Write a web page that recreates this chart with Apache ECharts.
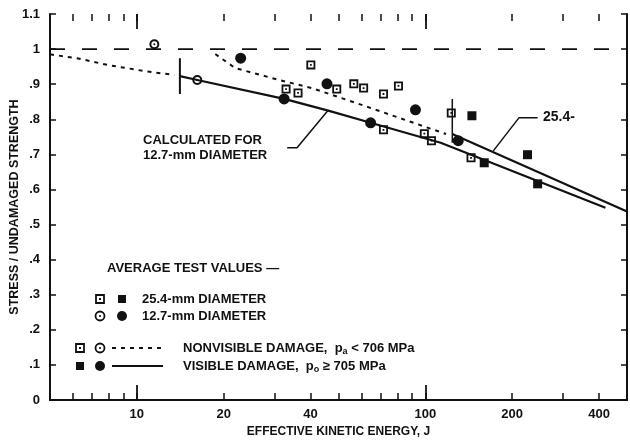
<!DOCTYPE html>
<html>
<head>
<meta charset="utf-8">
<script src="https://cdn.jsdelivr.net/npm/echarts@6/dist/echarts.min.js"></script>
<style>
  html, body { margin: 0; padding: 0; background: #fff; }
  #chart { width: 630px; height: 441px; }
</style>
</head>
<body>
<div id="chart"></div>
<script>
// axis ticks / labels (log x axis, J)
const xTicks = [6, 7, 8, 9, 10, 20, 30, 40, 50, 60, 70, 80, 90, 100, 200, 300, 400]
const xLongTicks = [10, 100]
const xLabels = [10, 20, 40, 100, 200, 400]

// average test values [energy J, stress / undamaged strength]
const sq254Open = [[32.9, 0.886], [36.2, 0.875], [40.1, 0.955], [49.3, 0.886], [56.5, 0.901], [61.1, 0.889],
  [71.6, 0.872], [80.7, 0.895], [71.6, 0.770], [99.2, 0.759], [105, 0.739], [123, 0.818], [144, 0.690]]
const sq254Filled = [[145, 0.810], [160, 0.676], [226, 0.699], [245, 0.616]]
const ci127Open = [[11.5, 1.014], [16.2, 0.912]]
const ci127Filled = [[22.9, 0.974], [32.4, 0.858], [45.6, 0.901], [64.6, 0.790], [92.4, 0.827], [130, 0.739]]

// curves
const refLine = [[5, 1], [500, 1]]
const dotted127 = [[5, 0.985], [6.2, 0.974], [7.9, 0.955], [10.5, 0.938], [13.5, 0.926]]
const bar127 = [[14.1, 0.974], [14.1, 0.872]]
const solid127 = [[14.1, 0.923], [16.2, 0.912], [32.4, 0.858], [46.4, 0.824], [64.6, 0.790], [113, 0.733], [421, 0.548]]
const dotted254 = [[18.7, 0.986], [21.9, 0.946], [31.1, 0.912], [40.4, 0.889], [58.7, 0.844], [118, 0.758]]
const bar254 = [[124, 0.858], [124, 0.733]]
const solid254 = [[124, 0.758], [500, 0.537]]
const callout127 = [[33.2, 0.719], [35.9, 0.719], [45.9, 0.824]]
const callout254 = [[172, 0.710], [211, 0.804], [245, 0.804]]

const INK = '#111'
const FONT = '"Liberation Sans", Arial, sans-serif'

const SQ_OPEN = 'path://M0,0L10,0L10,10L0,10Z M2,2L2,8L8,8L8,2Z M4,4L6,4L6,6L4,6Z'
const CI_OPEN = 'path://M5,0A5,5,0,1,1,5,10A5,5,0,1,1,5,0Z M5,2A3,3,0,1,0,5,8A3,3,0,1,0,5,2Z M5,4A1,1,0,1,1,5,6A1,1,0,1,1,5,4Z'

function yFmt(v) {
  if (v === 0) return '0'
  const s = (+v).toFixed(1)
  if (s === '1.0') return '1'
  return s.replace(/^0/, '')
}

function lineSeries(name, data, width, type) {
  return {
    name, type: 'line', data, showSymbol: false, symbol: 'none', silent: true,
    lineStyle: { color: INK, width, type: type || 'solid' },
    z: 2,
  }
}

function scatterSeries(name, data, symbol, size) {
  return {
    name, type: 'scatter', data, symbol, symbolSize: size, silent: true,
    itemStyle: { color: INK, opacity: 1 },
    z: 5,
  }
}

// legend / annotation helpers (pixel layout only)
function openSquare(cx, cy, s) {
  return [
    { type: 'rect', shape: { x: cx - s / 2, y: cy - s / 2, width: s, height: s }, style: { fill: '#fff', stroke: INK, lineWidth: 1.8 } },
    { type: 'rect', shape: { x: cx - 1, y: cy - 1, width: 2, height: 2 }, style: { fill: INK } },
  ]
}
function filledSquare(cx, cy, s) {
  return [{ type: 'rect', shape: { x: cx - s / 2, y: cy - s / 2, width: s, height: s }, style: { fill: INK } }]
}
function openCircle(cx, cy, r) {
  return [
    { type: 'circle', shape: { cx, cy, r }, style: { fill: '#fff', stroke: INK, lineWidth: 1.8 } },
    { type: 'circle', shape: { cx, cy, r: 1.1 }, style: { fill: INK } },
  ]
}
function filledCircle(cx, cy, r) {
  return [{ type: 'circle', shape: { cx, cy, r }, style: { fill: INK } }]
}
function label(x, y, text, size) {
  return {
    type: 'text', x, y,
    style: { text, fill: INK, font: 'bold ' + (size || 13) + 'px ' + FONT, verticalAlign: 'middle', align: 'left' },
  }
}
function richLabel(x, y, before, sub, after) {
  return {
    type: 'text', x, y,
    style: {
      text: '{a|' + before + '}{s|' + sub + '}{a|' + after + '}',
      verticalAlign: 'middle', align: 'left',
      rich: {
        a: { fill: INK, font: 'bold 13px ' + FONT },
        s: { fill: INK, font: 'bold 9px ' + FONT, padding: [7, 0, 0, 0] },
      },
    },
  }
}

const graphics = [].concat(
  label(143, 140, 'CALCULATED FOR'),
  label(143, 155, '12.7-mm DIAMETER'),
  label(543, 117, '25.4-', 14),
  label(107, 268, 'AVERAGE TEST VALUES —'),
  openSquare(100, 299, 8), filledSquare(122, 299, 8), label(142, 299, '25.4-mm DIAMETER'),
  openCircle(100, 316, 4.5), filledCircle(122, 316, 5), label(142, 316, '12.7-mm DIAMETER'),
  openSquare(80, 348, 8), openCircle(100, 348, 4.5),
  { type: 'line', shape: { x1: 112, y1: 348, x2: 163, y2: 348 }, style: { stroke: INK, lineWidth: 2, lineDash: [4, 5] } },
  richLabel(183, 348, 'NONVISIBLE DAMAGE,  p', 'a', ' < 706 MPa'),
  filledSquare(80, 366, 8), filledCircle(100, 366, 5),
  { type: 'line', shape: { x1: 112, y1: 366, x2: 163, y2: 366 }, style: { stroke: INK, lineWidth: 2 } },
  richLabel(183, 366, 'VISIBLE DAMAGE,  p', 'o', ' ≥ 705 MPa'),
)

function gridPos() {
  return { left: 50, right: 3, top: 14, bottom: 41, outerBoundsMode: 'none', containLabel: false }
}
// thin strip above the plot: its bottom edge is the top frame, so outward ticks point down into the plot
function topStrip() {
  return { left: 50, right: 3, top: 0, height: 14, outerBoundsMode: 'none', containLabel: false }
}
function axisLine() {
  return { show: true, lineStyle: { color: INK, width: 2 } }
}
function tick(values, length, width, inside) {
  return { show: true, inside: inside !== false, length, customValues: values.slice(), lineStyle: { color: INK, width } }
}
function labelFont() {
  return { color: INK, fontFamily: FONT, fontWeight: 'bold', fontSize: 13 }
}
// labels kept (so the custom tick values stay in use) but drawn transparent
function ghostLabels(values) {
  return { show: true, customValues: values.slice(), color: 'rgba(0,0,0,0)', fontSize: 13 }
}
function logX(extra) {
  return Object.assign({ type: 'log', logBase: 10, min: 5, max: 500, splitLine: { show: false } }, extra)
}
function bareTop(gridIndex) {
  return logX({ position: 'top', gridIndex, axisLine: { show: false }, axisTick: { show: false }, axisLabel: { show: false } })
}

const chart = echarts.init(document.getElementById('chart'))
chart.setOption({
  animation: false,
  backgroundColor: '#fff',
  grid: [gridPos(), gridPos(), topStrip(), topStrip()],
  xAxis: [
    logX({
      position: 'bottom', gridIndex: 0,
      axisLine: axisLine(),
      axisTick: tick(xTicks, 7, 1.5),
      axisLabel: Object.assign({ customValues: xLabels.slice(), margin: 8 }, labelFont()),
      name: 'EFFECTIVE KINETIC ENERGY, J', nameLocation: 'middle', nameGap: 26, nameMoveOverlap: false,
      nameTextStyle: { color: INK, fontFamily: FONT, fontWeight: 'bold', fontSize: 12 },
    }),
    logX({
      position: 'top', gridIndex: 0,
      axisLine: axisLine(),
      axisTick: { show: false },
      axisLabel: { show: false },
    }),
    logX({
      position: 'bottom', gridIndex: 1,
      axisLine: { show: false },
      axisTick: tick(xLongTicks, 15, 1.8),
      axisLabel: ghostLabels(xLongTicks),
    }),
    bareTop(1),
    logX({
      position: 'bottom', gridIndex: 2,
      axisLine: { show: false },
      axisTick: tick(xTicks, 7, 1.5, false),
      axisLabel: ghostLabels(xTicks),
    }),
    bareTop(2),
    logX({
      position: 'bottom', gridIndex: 3,
      axisLine: { show: false },
      axisTick: tick(xLongTicks, 15, 1.8, false),
      axisLabel: ghostLabels(xLongTicks),
    }),
    bareTop(3),
  ],
  yAxis: [
    {
      type: 'value', min: 0, max: 1.1, interval: 0.1, position: 'left', gridIndex: 0,
      axisLine: axisLine(),
      axisTick: { inside: true, length: 6, lineStyle: { color: INK, width: 1.5 } },
      axisLabel: Object.assign({ formatter: yFmt, margin: 10 }, labelFont()),
      splitLine: { show: false },
      name: 'STRESS / UNDAMAGED STRENGTH', nameLocation: 'middle', nameGap: 29, nameRotate: 90,
      nameMoveOverlap: false,
      nameTextStyle: { color: INK, fontFamily: FONT, fontWeight: 'bold', fontSize: 12.5 },
    },
    {
      type: 'value', min: 0, max: 1.1, interval: 0.1, position: 'right', gridIndex: 0,
      axisLine: axisLine(),
      axisTick: { inside: true, length: 6, lineStyle: { color: INK, width: 1.5 } },
      axisLabel: { show: false },
      splitLine: { show: false },
    },
    { type: 'value', min: 0, max: 1.1, gridIndex: 1, show: false },
    { type: 'value', min: 0, max: 1, gridIndex: 2, show: false },
    { type: 'value', min: 0, max: 1, gridIndex: 3, show: false },
  ],
  series: [
    lineSeries('ref', refLine, 1.6, [15, 17]),
    lineSeries('nonvisible 12.7', dotted127, 2, [4, 5]),
    lineSeries('bar 12.7', bar127, 2),
    lineSeries('calc 12.7', solid127, 2.2),
    lineSeries('nonvisible 25.4', dotted254, 2, [4, 5]),
    lineSeries('bar 25.4', bar254, 1.5),
    lineSeries('calc 25.4', solid254, 2.2),
    lineSeries('callout 12.7', callout127, 1.5),
    lineSeries('callout 25.4', callout254, 1.5),
    scatterSeries('25.4 nonvisible', sq254Open, SQ_OPEN, 9),
    scatterSeries('25.4 visible', sq254Filled, 'rect', 9),
    scatterSeries('12.7 nonvisible', ci127Open, CI_OPEN, 10),
    scatterSeries('12.7 visible', ci127Filled, 'circle', 11),
  ],
  graphic: graphics,
})
</script>
</body>
</html>
